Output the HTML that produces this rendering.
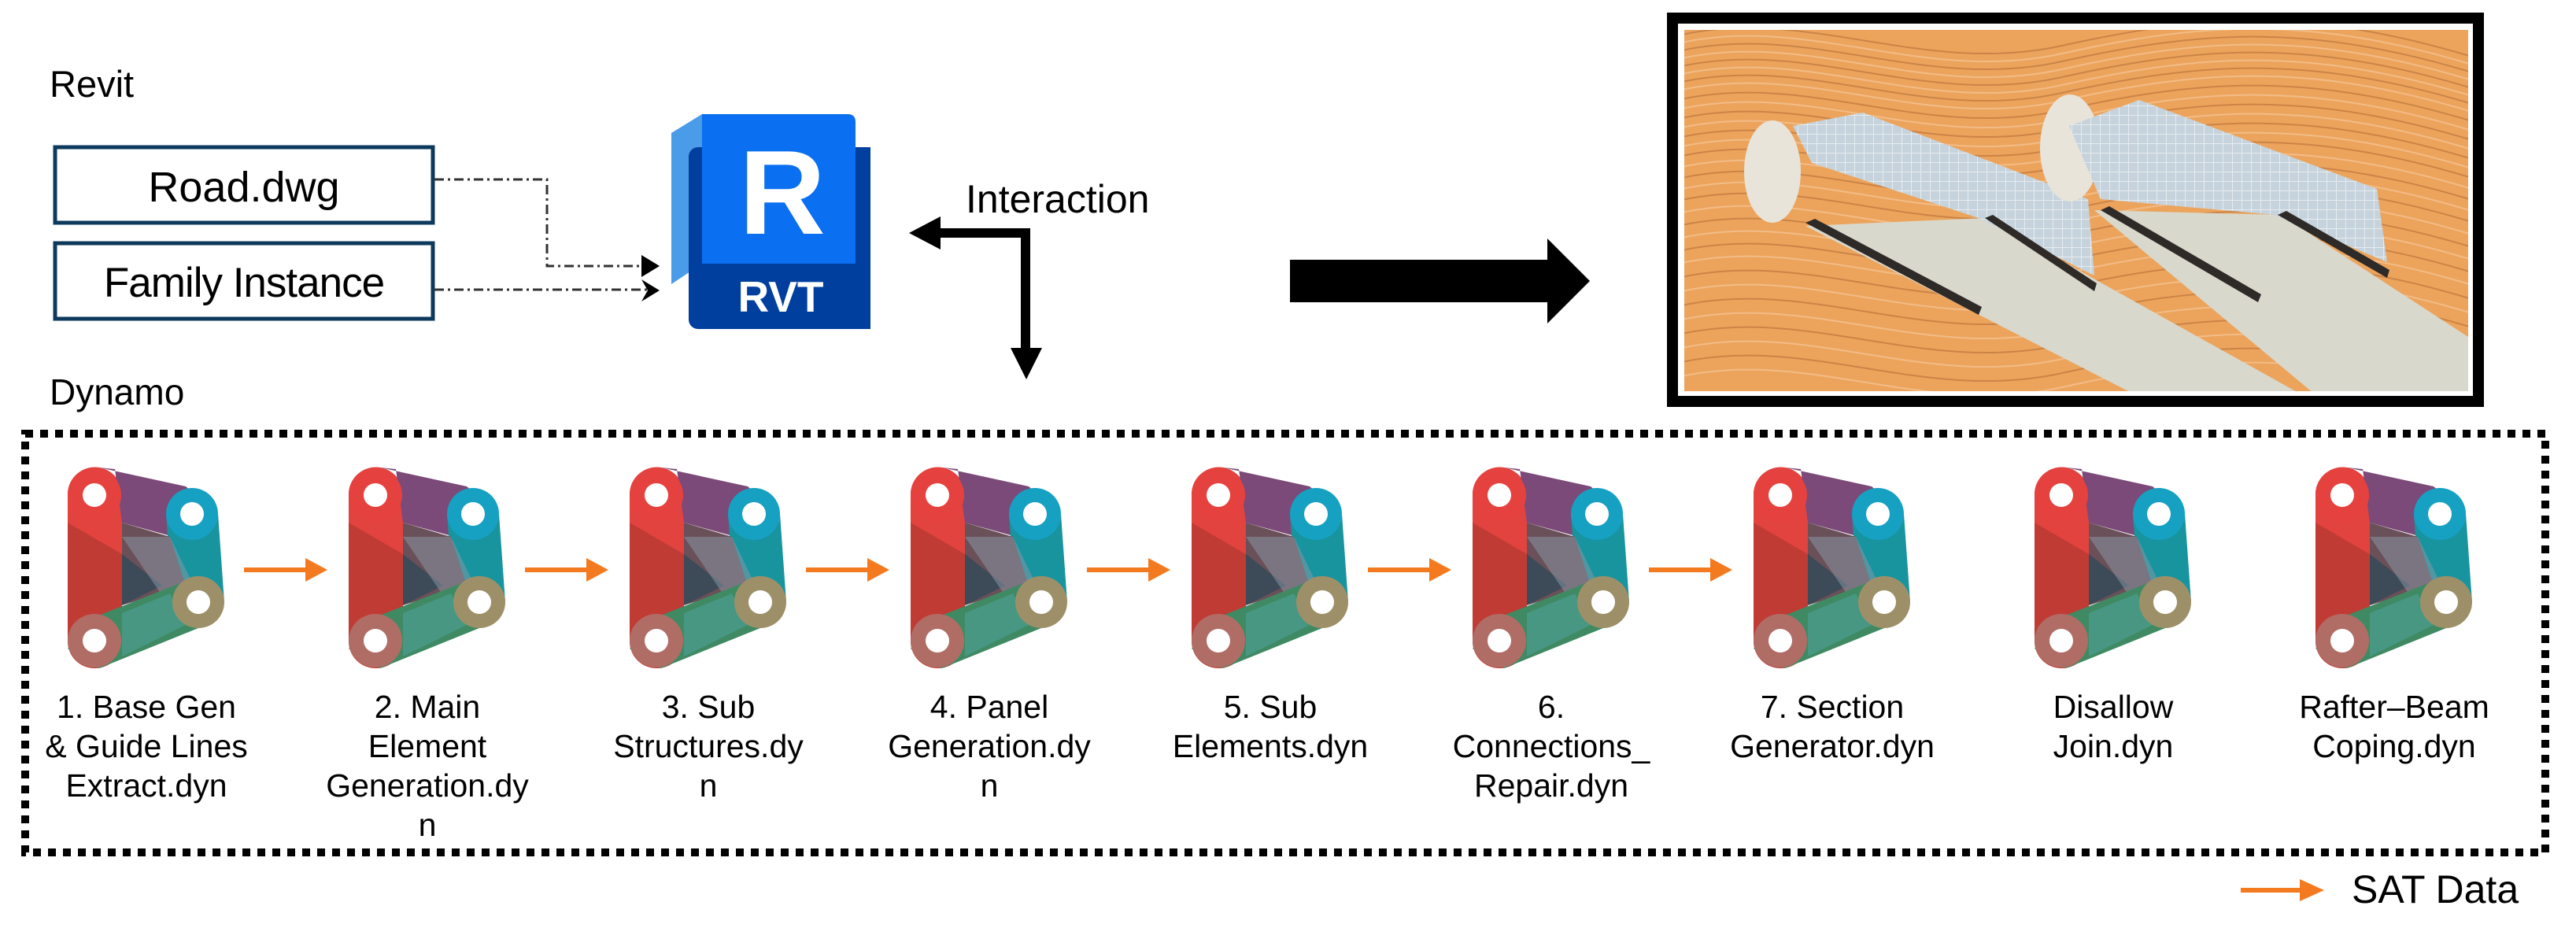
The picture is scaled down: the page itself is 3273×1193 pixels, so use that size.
<!DOCTYPE html>
<html><head><meta charset="utf-8"><style>
html,body{margin:0;padding:0;background:#fff;}
svg{display:block;}
text{font-family:"Liberation Sans",sans-serif;fill:#000;}
</style></head><body>
<svg width="3273" height="1193" viewBox="0 0 3273 1193" xmlns="http://www.w3.org/2000/svg">
<defs>
<g id="dyn">
  <rect x="0" y="0" width="69" height="255" rx="34" fill="#c13b35"/>
  <path d="M0,34 A34,34 0 0 1 69,34 L69,110 L0,70 Z" fill="#e2433f"/>
  <polygon points="40,0 150,24 191,59 160,95 69,70 60,2" fill="#7b4a78"/>
  <polygon points="125,59 191,59 199,171 133,171" fill="#18949f"/>
  <polygon points="69,70 130,88 150,150 69,175" fill="#6a5058"/>
  <polygon points="69,110 120,150 69,175" fill="#3d4a58"/>
  <polygon points="69,88 130,88 160,150 125,170" fill="#8a9aa8" opacity="0.5"/>
  <polygon points="34,190 166,138 199,171 166,204 40,255 0,230" fill="#3f8a63"/>
  <polygon points="69,185 130,160 150,200 69,240" fill="#4a9a8a" opacity="0.8"/>
  <circle cx="34" cy="220" r="34" fill="#b06d65"/>
  <circle cx="158" cy="59" r="33" fill="#16a0c2"/>
  <circle cx="166" cy="171" r="33" fill="#9d9068"/>
  <circle cx="34" cy="35" r="34" fill="#e5423f"/>
  <circle cx="34" cy="35" r="15" fill="#fff"/>
  <circle cx="158" cy="59" r="15" fill="#fff"/>
  <circle cx="166" cy="171" r="15" fill="#fff"/>
  <circle cx="34" cy="220" r="15" fill="#fff"/>
</g>
<g id="oarr">
  <line x1="0" y1="0" x2="80" y2="0" stroke="#f47a20" stroke-width="6"/>
  <polygon points="78,-15 106,0 78,15" fill="#f47a20"/>
</g>
<path id="wave" d="M-20,0 C150,-45 300,50 480,10 S800,-40 1020,30" fill="none"/>
<pattern id="mesh" width="12" height="12" patternUnits="userSpaceOnUse">
  <rect width="12" height="12" fill="#c6d3dc"/>
  <path d="M0,0 H12 M0,0 V12" stroke="#e6ecef" stroke-width="2"/>
</pattern>
<clipPath id="imgclip"><rect x="0" y="0" width="996" height="459"/></clipPath>
</defs>

<!-- Revit section -->
<text x="63" y="123" font-size="47">Revit</text>
<rect x="70" y="187" width="480" height="96" fill="#fff" stroke="#0d3a5c" stroke-width="5"/>
<text x="310" y="256" font-size="54" text-anchor="middle">Road.dwg</text>
<rect x="70" y="309" width="480" height="96" fill="#fff" stroke="#0d3a5c" stroke-width="5"/>
<text x="310" y="377" font-size="53" text-anchor="middle" letter-spacing="-1">Family Instance</text>

<g stroke="#333" stroke-width="3" fill="none" stroke-dasharray="12 5 3 5">
  <polyline points="552,228 695,228 695,338 822,338"/>
  <line x1="552" y1="368" x2="822" y2="368"/>
</g>
<polygon points="815,324 838,338 815,352" fill="#000"/>
<polygon points="815,355 838,369 815,383 823,369" fill="#000"/>

<!-- Revit logo -->
<polygon points="853,169 892,145 892,335 853,361" fill="#4a9be8"/>
<rect x="875" y="187" width="231" height="231" rx="12" fill="#003f9e"/>
<rect x="1060" y="187" width="46" height="231" fill="#003f9e"/>
<path d="M892,145 L1077,145 Q1087,145 1087,155 L1087,335 L892,335 Z" fill="#0a6ff0"/>
<text x="994" y="297" font-size="152" font-weight="bold" text-anchor="middle" style="fill:#fff">R</text>
<text x="992" y="396" font-size="55" font-weight="bold" text-anchor="middle" style="fill:#fff">RVT</text>

<!-- Interaction -->
<text x="1227" y="270" font-size="50">Interaction</text>
<rect x="1190" y="290" width="119" height="12" fill="#000"/>
<rect x="1297" y="290" width="12" height="160" fill="#000"/>
<polygon points="1155,296 1195,275 1195,317" fill="#000"/>
<polygon points="1284,442 1324,442 1304,482" fill="#000"/>

<!-- big arrow -->
<polygon points="1639,330 1966,330 1966,303 2020,357 1966,411 1966,384 1639,384" fill="#000"/>

<!-- frame -->
<rect x="2118" y="16" width="1038" height="501" fill="#000"/>
<rect x="2132" y="30" width="1010" height="473" fill="#fff"/>
<g transform="translate(2140,38)" clip-path="url(#imgclip)">
  <rect x="0" y="0" width="996" height="459" fill="#eca45c"/>
  <g stroke-width="2" opacity="0.75">
    <use href="#wave" y="10" stroke="#c07a40"/><use href="#wave" y="20" stroke="#f5c596"/>
    <use href="#wave" y="30" stroke="#c07a40"/><use href="#wave" y="40" stroke="#f5c596"/>
    <use href="#wave" y="50" stroke="#c07a40"/><use href="#wave" y="60" stroke="#f5c596"/>
    <use href="#wave" y="70" stroke="#c07a40"/><use href="#wave" y="80" stroke="#f5c596"/>
    <use href="#wave" y="92" stroke="#c07a40"/><use href="#wave" y="104" stroke="#f5c596"/>
    <use href="#wave" y="116" stroke="#c07a40"/><use href="#wave" y="128" stroke="#f5c596"/>
    <use href="#wave" y="140" stroke="#c07a40"/><use href="#wave" y="152" stroke="#f5c596"/>
    <use href="#wave" y="164" stroke="#c07a40"/><use href="#wave" y="178" stroke="#f5c596"/>
    <use href="#wave" y="192" stroke="#c07a40"/><use href="#wave" y="206" stroke="#f5c596"/>
    <use href="#wave" y="220" stroke="#c07a40"/><use href="#wave" y="236" stroke="#f5c596"/>
    <use href="#wave" y="252" stroke="#c07a40"/><use href="#wave" y="268" stroke="#f5c596"/>
    <use href="#wave" y="284" stroke="#c07a40"/><use href="#wave" y="300" stroke="#f5c596"/>
    <use href="#wave" y="318" stroke="#c07a40"/><use href="#wave" y="336" stroke="#f5c596"/>
    <use href="#wave" y="354" stroke="#c07a40"/><use href="#wave" y="372" stroke="#f5c596"/>
    <use href="#wave" y="390" stroke="#c07a40"/><use href="#wave" y="408" stroke="#f5c596"/>
    <use href="#wave" y="426" stroke="#c07a40"/><use href="#wave" y="444" stroke="#f5c596"/>
  </g>
  <!-- roads -->
  <polygon points="154,249 382,239 782,462 570,462" fill="#d9d8cc"/>
  <polygon points="521,229 758,235 996,390 996,462 800,462" fill="#d9d8cc"/>
  <!-- tunnel 1 -->
  <ellipse cx="112" cy="180" rx="36" ry="65" fill="#e8e4da"/>
  <polygon points="138,122 227,105 513,215 521,312 374,239 162,169" fill="url(#mesh)"/>
  <polygon points="154,245 166,240 378,352 374,362" fill="#2e2a28"/>
  <polygon points="382,239 392,235 524,322 521,332" fill="#2e2a28"/>
  <!-- tunnel 2 -->
  <ellipse cx="490" cy="150" rx="38" ry="68" fill="#e8e4da"/>
  <polygon points="489,122 578,89 880,202 893,295 750,235 529,215" fill="url(#mesh)"/>
  <polygon points="529,229 540,224 733,336 729,346" fill="#2e2a28"/>
  <polygon points="754,235 765,230 896,305 893,315" fill="#2e2a28"/>
</g>

<!-- Dynamo section -->
<text x="63" y="514" font-size="46">Dynamo</text>
<rect x="32" y="551" width="3202" height="532" fill="none" stroke="#000" stroke-width="10" stroke-dasharray="10 9"/>

<use href="#dyn" x="86" y="594"/>
<use href="#dyn" x="443" y="594"/>
<use href="#dyn" x="800" y="594"/>
<use href="#dyn" x="1157" y="594"/>
<use href="#dyn" x="1514" y="594"/>
<use href="#dyn" x="1871" y="594"/>
<use href="#dyn" x="2228" y="594"/>
<use href="#dyn" x="2585" y="594"/>
<use href="#dyn" x="2942" y="594"/>

<use href="#oarr" x="310" y="724"/>
<use href="#oarr" x="667" y="724"/>
<use href="#oarr" x="1024" y="724"/>
<use href="#oarr" x="1381" y="724"/>
<use href="#oarr" x="1738" y="724"/>
<use href="#oarr" x="2095" y="724"/>

<g font-size="41" text-anchor="middle">
  <text x="186" y="912">1. Base Gen</text>
  <text x="186" y="962">&amp; Guide Lines</text>
  <text x="186" y="1012">Extract.dyn</text>

  <text x="543" y="912">2. Main</text>
  <text x="543" y="962">Element</text>
  <text x="543" y="1012">Generation.dy</text>
  <text x="543" y="1062">n</text>

  <text x="900" y="912">3. Sub</text>
  <text x="900" y="962">Structures.dy</text>
  <text x="900" y="1012">n</text>

  <text x="1257" y="912">4. Panel</text>
  <text x="1257" y="962">Generation.dy</text>
  <text x="1257" y="1012">n</text>

  <text x="1614" y="912">5. Sub</text>
  <text x="1614" y="962">Elements.dyn</text>

  <text x="1971" y="912">6.</text>
  <text x="1971" y="962">Connections_</text>
  <text x="1971" y="1012">Repair.dyn</text>

  <text x="2328" y="912">7. Section</text>
  <text x="2328" y="962">Generator.dyn</text>

  <text x="2685" y="912">Disallow</text>
  <text x="2685" y="962">Join.dyn</text>

  <text x="3042" y="912">Rafter–Beam</text>
  <text x="3042" y="962">Coping.dyn</text>
</g>

<!-- legend -->
<line x1="2847" y1="1131" x2="2925" y2="1131" stroke="#f47a20" stroke-width="6"/>
<polygon points="2922,1117 2953,1131 2922,1145" fill="#f47a20"/>
<text x="2988" y="1147" font-size="50">SAT Data</text>
</svg>
</body></html>
